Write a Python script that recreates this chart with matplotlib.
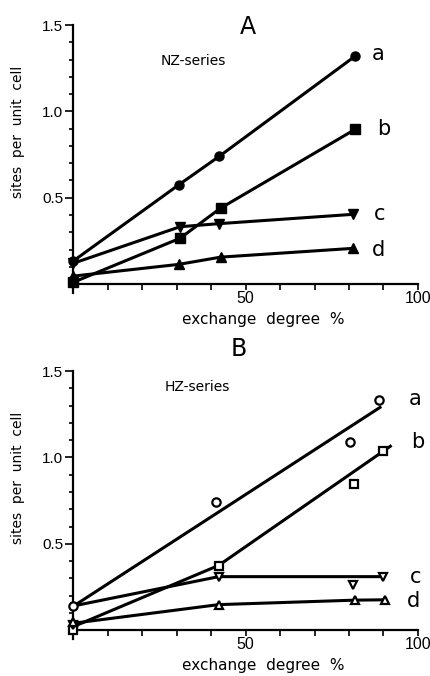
import matplotlib.pyplot as plt
from matplotlib.ticker import MultipleLocator, FixedLocator

# ---- panel A: NZ-series (points joined by lines) ----
nz_a_x = [0, 30.6, 42.4, 81.8]
nz_a_y = [0.133, 0.574, 0.74, 1.32]
nz_b_x = [0, 31, 42.8, 81.8]
nz_b_y = [0.01, 0.265, 0.44, 0.896]
nz_c_x = [0, 31, 42.4, 81.3]
nz_c_y = [0.12, 0.332, 0.35, 0.404]
nz_d_x = [0, 30.6, 42.8, 81.3]
nz_d_y = [0.046, 0.114, 0.156, 0.207]

# ---- panel B: HZ-series (open points + drawn trend lines) ----
hz_a_x = [0, 41.4, 80.4, 88.6]
hz_a_y = [0.142, 0.744, 1.087, 1.335]
hz_b_x = [0, 42.2, 81.5, 90]
hz_b_y = [0.0, 0.37, 0.846, 1.04]
hz_c_x = [0, 42.2, 81.3, 90]
hz_c_y = [0.03, 0.31, 0.26, 0.31]
hz_d_x = [0, 42.2, 81.8, 90.5]
hz_d_y = [0.05, 0.148, 0.174, 0.176]

hz_a_line_x = [0, 89]
hz_a_line_y = [0.138, 1.29]
hz_b_line_x = [0, 42.2, 92]
hz_b_line_y = [0.02, 0.375, 1.065]
hz_c_line_x = [0, 42.2, 90]
hz_c_line_y = [0.14, 0.31, 0.31]
hz_d_line_x = [0, 42.2, 81.8, 90.5]
hz_d_line_y = [0.04, 0.148, 0.174, 0.176]

curve_names = ['a', 'b', 'c', 'd']
markers = ['o', 's', 'v', '^']
labels_A = [(88.5, 1.33), (90, 0.90), (88.8, 0.405), (88.5, 0.20)]
labels_B = [(99.2, 1.337), (99.8, 1.087), (99.2, 0.31), (98.6, 0.17)]

plt.rcParams['font.family'] = 'DejaVu Sans'

fig = plt.figure(figsize=(4.3, 6.76), dpi=100)
axA = fig.add_axes([0.170, 0.567, 0.802, 0.396])
axB = fig.add_axes([0.170, 0.055, 0.802, 0.396])


def style_axis(ax):
    ax.set_xlim(0, 100)
    ax.set_ylim(-0.05, 1.5)
    for s in ['top', 'right']:
        ax.spines[s].set_visible(False)
    ax.spines['bottom'].set_position(('data', 0))
    ax.spines['left'].set_linewidth(1.6)
    ax.spines['bottom'].set_linewidth(1.6)
    ax.xaxis.set_major_locator(FixedLocator([50, 100]))
    ax.xaxis.set_minor_locator(MultipleLocator(10))
    ax.yaxis.set_major_locator(FixedLocator([0.5, 1.0, 1.5]))
    ax.yaxis.set_minor_locator(MultipleLocator(0.1))
    ax.set_xticklabels(['50', '100'], fontsize=11.5, family='Liberation Sans')
    ax.set_yticklabels(['0.5', '1.0', '1.5'], fontsize=11, family='Liberation Sans')
    ax.tick_params(axis='both', which='both', direction='out', width=1.2)
    ax.tick_params(axis='x', which='both', length=4, pad=1)
    ax.tick_params(axis='y', which='major', length=6, pad=1)
    ax.tick_params(axis='y', which='minor', length=3)
    ax.set_xlabel('exchange  degree  %', fontsize=11, va='center')
    ax.xaxis.set_label_coords(0.55, -0.1)
    ax.set_ylabel('sites  per  unit  cell', fontsize=10, va='center')
    ax.yaxis.set_label_coords(-0.16, 0.60)


style_axis(axA)
style_axis(axB)

# panel A
nz = [(nz_a_x, nz_a_y), (nz_b_x, nz_b_y), (nz_c_x, nz_c_y), (nz_d_x, nz_d_y)]
for (x, y), m in zip(nz, markers):
    axA.plot(x, y, color='black', lw=2.2, marker=m, ms=6.5,
             markerfacecolor='black', clip_on=False, zorder=3)
for name, (tx, ty) in zip(curve_names, labels_A):
    axA.text(tx, ty, name, fontsize=15, ha='center', va='center')
axA.text(50.8, 1.49, 'A', fontsize=17, ha='center', va='center')
axA.text(34.8, 1.29, 'NZ-series', fontsize=10, ha='center', va='center')

# panel B
hz_pts = [(hz_a_x, hz_a_y), (hz_b_x, hz_b_y), (hz_c_x, hz_c_y), (hz_d_x, hz_d_y)]
hz_lines = [(hz_a_line_x, hz_a_line_y), (hz_b_line_x, hz_b_line_y),
            (hz_c_line_x, hz_c_line_y), (hz_d_line_x, hz_d_line_y)]
for (lx, ly) in hz_lines:
    axB.plot(lx, ly, color='black', lw=2.2, clip_on=False, zorder=2)
for (x, y), m in zip(hz_pts, markers):
    axB.plot(x, y, ls='none', marker=m, ms=6, markerfacecolor='white',
             markeredgecolor='black', markeredgewidth=1.6, clip_on=False, zorder=3)
for name, (tx, ty) in zip(curve_names, labels_B):
    axB.text(tx, ty, name, fontsize=15, ha='center', va='center')
axB.text(48, 1.63, 'B', fontsize=17, ha='center', va='center')
axB.text(36, 1.41, 'HZ-series', fontsize=10, ha='center', va='center')

fig.savefig('out.png', dpi=100)
